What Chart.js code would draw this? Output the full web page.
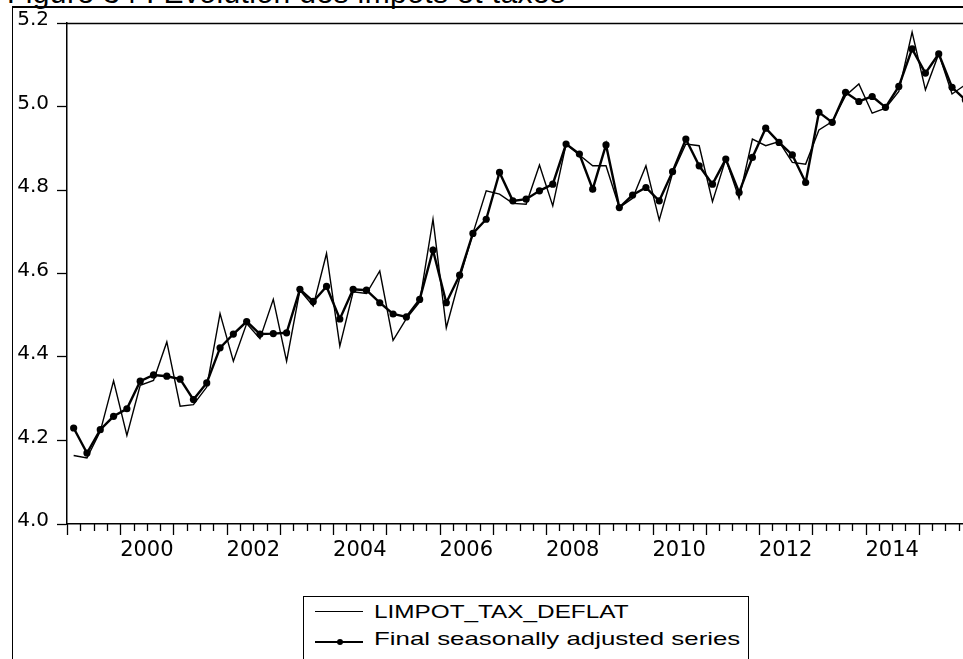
<!DOCTYPE html>
<html>
<head>
<meta charset="utf-8">
<script src="https://cdn.jsdelivr.net/npm/chart.js@4/dist/chart.umd.min.js"></script>
<style>
html,body{margin:0;padding:0;width:963px;height:659px;overflow:hidden;background:#fff;}
#frame{position:absolute;left:12px;top:6px;width:1000px;height:700px;border-left:1.5px solid #000;border-top:2px solid #000;box-sizing:border-box;}
#title{position:absolute;left:7px;top:-22.5px;font:30px "Liberation Sans",Arial,sans-serif;line-height:30px;letter-spacing:0.4px;white-space:nowrap;color:#000;}
#wrap{position:absolute;left:0;top:0;width:985px;height:659px;}
#legend{position:absolute;left:303px;top:596px;width:444px;height:90px;border:1.5px solid #000;background:#fff;font:19px "Liberation Sans",Arial,sans-serif;color:#000;}
#legend .txt{position:absolute;left:70px;line-height:20px;white-space:nowrap;transform-origin:0 50%;}
#legend .ln{position:absolute;left:11px;width:48px;background:#000;}
#legend .dot{position:absolute;width:6px;height:6px;border-radius:50%;background:#000;}
</style>
</head>
<body>
<div id="title">Figure 34 : Evolution des impôts et taxes</div>
<div id="wrap"><canvas id="c" width="985" height="659"></canvas></div>
<div id="frame"></div>
<div id="legend">
  <div class="ln" style="top:14px;height:1.4px;"></div>
  <div class="txt" id="lg1" style="top:4.5px;transform:scaleX(1.28);">LIMPOT_TAX_DEFLAT</div>
  <div class="ln" style="top:44px;height:2.2px;"></div>
  <div class="dot" style="left:33px;top:42px;"></div>
  <div class="txt" id="lg2" style="top:31.5px;transform:scaleX(1.36);">Final seasonally adjusted series</div>
</div>
<script>
// ---- data ----
const quarters = [
 "1999Q1","1999Q2","1999Q3","1999Q4",
 "2000Q1","2000Q2","2000Q3","2000Q4",
 "2001Q1","2001Q2","2001Q3","2001Q4",
 "2002Q1","2002Q2","2002Q3","2002Q4",
 "2003Q1","2003Q2","2003Q3","2003Q4",
 "2004Q1","2004Q2","2004Q3","2004Q4",
 "2005Q1","2005Q2","2005Q3","2005Q4",
 "2006Q1","2006Q2","2006Q3","2006Q4",
 "2007Q1","2007Q2","2007Q3","2007Q4",
 "2008Q1","2008Q2","2008Q3","2008Q4",
 "2009Q1","2009Q2","2009Q3","2009Q4",
 "2010Q1","2010Q2","2010Q3","2010Q4",
 "2011Q1","2011Q2","2011Q3","2011Q4",
 "2012Q1","2012Q2","2012Q3","2012Q4",
 "2013Q1","2013Q2","2013Q3","2013Q4",
 "2014Q1","2014Q2","2014Q3","2014Q4",
 "2015Q1","2015Q2","2015Q3","2015Q4"
];
const limpotTaxDeflat = [
 4.164,4.158,4.222,4.343, 4.212,4.332,4.344,4.436,
 4.282,4.286,4.328,4.504, 4.390,4.480,4.444,4.538,
 4.390,4.560,4.522,4.648, 4.426,4.556,4.552,4.606,
 4.440,4.492,4.532,4.730, 4.470,4.588,4.696,4.798,
 4.790,4.768,4.766,4.860, 4.762,4.910,4.884,4.858,
 4.858,4.758,4.780,4.858, 4.728,4.840,4.910,4.906,
 4.772,4.874,4.780,4.922, 4.906,4.916,4.866,4.862,
 4.944,4.964,5.026,5.054, 4.984,4.996,5.036,5.178,
 5.040,5.126,5.030,5.052
];
const finalSeasonallyAdjusted = [
 4.230,4.170,4.226,4.258, 4.276,4.342,4.357,4.354,
 4.347,4.298,4.338,4.422, 4.455,4.485,4.455,4.456,
 4.458,4.562,4.533,4.569, 4.491,4.562,4.560,4.530,
 4.503,4.496,4.538,4.656, 4.530,4.596,4.696,4.730,
 4.842,4.774,4.778,4.798, 4.814,4.910,4.886,4.802,
 4.908,4.758,4.788,4.806, 4.774,4.844,4.922,4.858,
 4.814,4.874,4.794,4.878, 4.948,4.914,4.884,4.818,
 4.986,4.962,5.034,5.012, 5.024,4.998,5.048,5.138,
 5.080,5.126,5.046,5.016
];
const xTickLabels = ["2000","2002","2004","2006","2008","2010","2012","2014"];
const yTickLabels = ["4.0","4.2","4.4","4.6","4.8","5.0","5.2"];
const seriesNames = ["LIMPOT_TAX_DEFLAT","Final seasonally adjusted series"];

// quarter label -> position in years (centre of the quarter)
function quarterStart(q){ return parseInt(q.slice(0,4),10) + (parseInt(q.slice(5),10)-1)/4; }
function quarterCentre(q){ return quarterStart(q) + 0.125; }

const xMin = quarterStart(quarters[0]);
const xMax = quarterStart(quarters[quarters.length-1]) + 0.25;
const xBoundaries = quarters.map(quarterStart).concat([xMax]);
const yTickValues = yTickLabels.map(Number);

const ptsA = quarters.map((q,i)=>({x:quarterCentre(q), y:limpotTaxDeflat[i]}));
const ptsB = quarters.map((q,i)=>({x:quarterCentre(q), y:finalSeasonallyAdjusted[i]}));

const tickMarks = {
  id:'tickMarks',
  afterDraw(chart){
    const {ctx, chartArea:a, scales:{x}} = chart;
    ctx.save();
    ctx.strokeStyle='#000';
    ctx.lineWidth=1.3;
    ctx.beginPath();
    x.ticks.forEach(t=>{
      const px = Math.round(x.getPixelForValue(t.value))+0.5;
      const len = Number.isInteger(t.value) ? 11 : 7;
      ctx.moveTo(px, a.bottom); ctx.lineTo(px, a.bottom+len);
    });
    ctx.stroke();
    ctx.lineWidth=1.5;
    ctx.beginPath();
    ctx.moveTo(a.left, a.top+0.5); ctx.lineTo(a.right, a.top+0.5);
    ctx.stroke();
    ctx.restore();
  }
};

new Chart(document.getElementById('c'), {
  type:'line',
  data:{
    datasets:[
      {label:seriesNames[0], data:ptsA, borderColor:'#000', backgroundColor:'#000',
       borderWidth:1.4, pointRadius:0, tension:0, order:2},
      {label:seriesNames[1], data:ptsB, borderColor:'#000', backgroundColor:'#000',
       borderWidth:2.4, pointRadius:3.6, pointBorderWidth:0, pointBackgroundColor:'#000',
       pointHoverRadius:3.6, tension:0, order:1}
    ]
  },
  options:{
    responsive:false,
    devicePixelRatio:1,
    animation:false,
    events:[],
    layout:{padding:{top:23,left:0,right:13,bottom:0}},
    plugins:{legend:{display:false}, tooltip:{enabled:false}, title:{display:false}},
    scales:{
      x:{
        type:'linear', min:xMin, max:xMax,
        afterBuildTicks(s){ s.ticks = xBoundaries.map(v=>({value:v})); },
        afterFit(s){ s.height = 135; },
        grid:{drawOnChartArea:false, drawTicks:true, tickLength:11, tickColor:'rgba(0,0,0,0)'},
        border:{display:true, color:'#000', width:1.5},
        ticks:{
          autoSkip:false, maxRotation:0, minRotation:0, padding:3, color:'#000',
          font:{family:'"DejaVu Sans"', size:21},
          callback(v){
            const y = Math.floor(v);
            if (Math.abs(v - y - 0.5) < 1e-9 && xTickLabels.includes(String(y))) return String(y);
            return '';
          }
        }
      },
      y:{
        type:'linear', min:yTickValues[0], max:yTickValues[yTickValues.length-1],
        afterBuildTicks(s){ s.ticks = yTickValues.map(v=>({value:v})); },
        afterFit(s){ s.width = 67; },
        grid:{drawOnChartArea:false, drawTicks:true, tickLength:10, tickColor:'#000', tickWidth:1.3},
        border:{display:true, color:'#000', width:1.5},
        ticks:{
          padding:8, color:'#000', labelOffset:-3,
          font:{family:'"DejaVu Sans"', size:20},
          callback(v,i){ return yTickLabels[i]; }
        }
      }
    }
  },
  plugins:[tickMarks]
});
</script>
</body>
</html>
